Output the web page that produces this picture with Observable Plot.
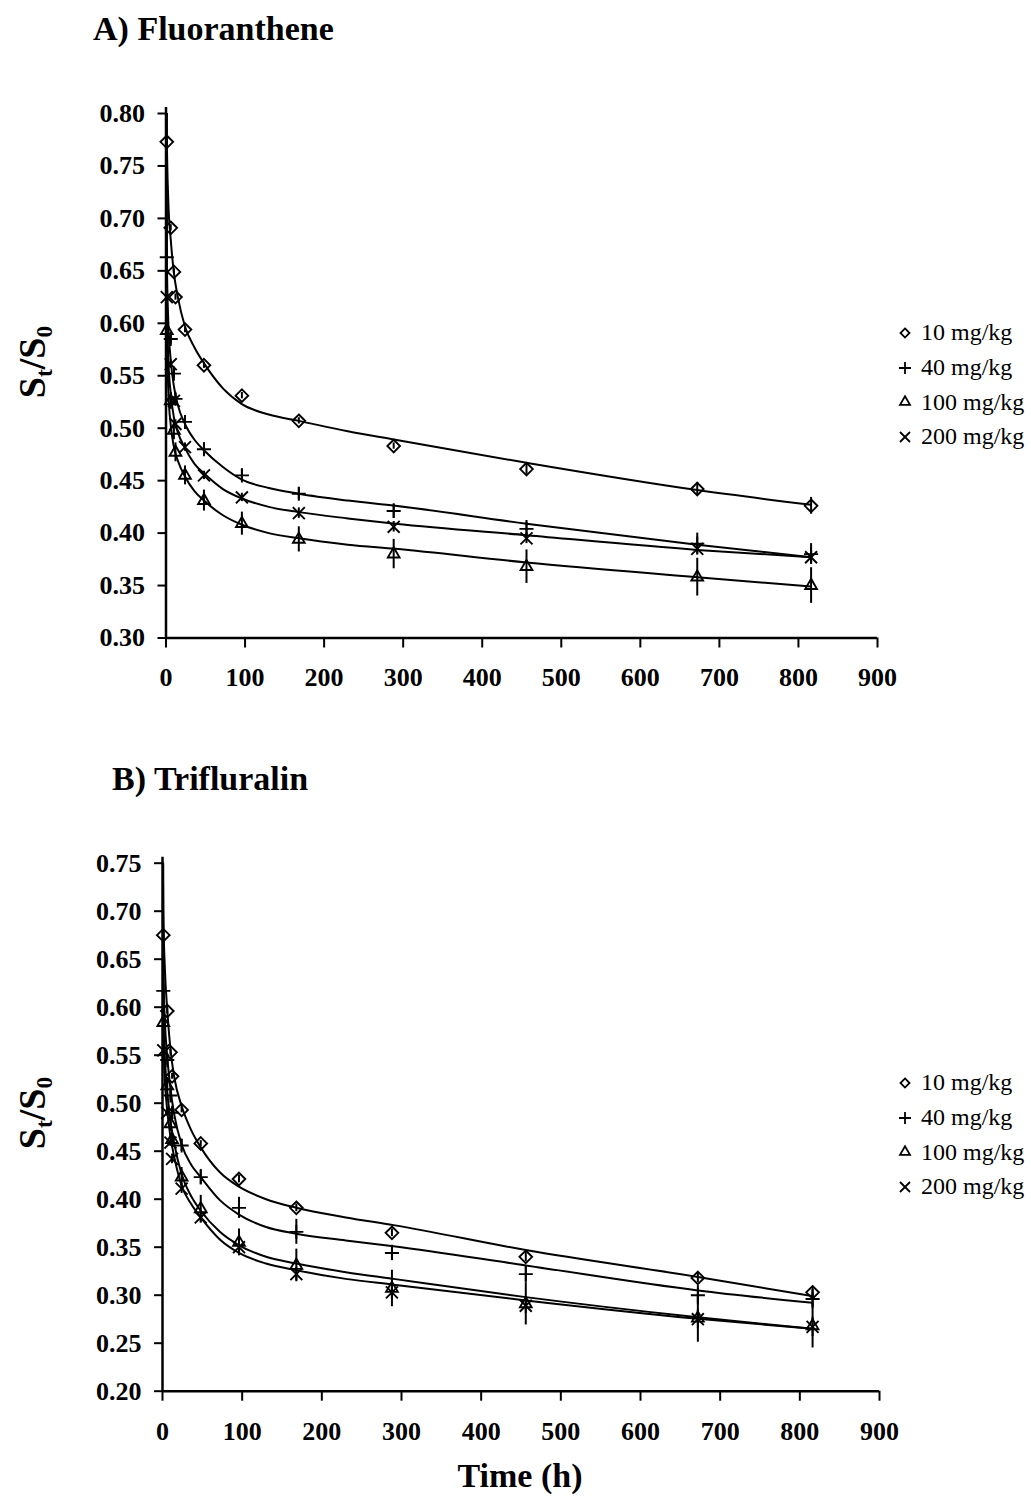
<!DOCTYPE html>
<html>
<head>
<meta charset="utf-8">
<script src="https://cdn.jsdelivr.net/npm/d3@7"></script>
<script src="https://cdn.jsdelivr.net/npm/@observablehq/plot@0.6"></script>
<style>
  html, body { margin: 0; padding: 0; background: #fff; }
  #page { position: relative; width: 1031px; height: 1498px; overflow: hidden;
          font-family: "Liberation Serif", "Times New Roman", serif; color: #000; }
  .title { position: absolute; font-weight: bold; font-size: 34px; line-height: 34px;
           white-space: nowrap; }
  .ylab { position: absolute; font-weight: bold; font-size: 38px; line-height: 38px; white-space: nowrap;
          transform: translate(-50%, -50%) rotate(-90deg); }
  .ylab sub { font-size: 0.62em; vertical-align: -0.28em; line-height: 0; }
  .xlab { position: absolute; font-weight: bold; font-size: 34px; line-height: 34px; white-space: nowrap;
          transform: translate(-50%, -50%); }
  .legend { position: absolute; font-size: 24px; }
  .legend .row { display: flex; align-items: center; height: 34.7px; white-space: nowrap; }
  .legend svg { margin-right: 8px; overflow: visible; }
  .panel { position: absolute; left: 0; }
</style>
</head>
<body>
<div id="page"></div>
<script>
// Dose levels and their marker shapes
const series = ["10 mg/kg", "40 mg/kg", "100 mg/kg", "200 mg/kg"];
const symbols = ["diamond2", "plus", "triangle2", "times"];
const markerR = [5.7, 4.6, 5.6, 5.5];

// Sampling times (h) and axis ticks
const sampleTimes = [1, 6, 10, 12, 24, 48, 96, 168, 288, 456, 672, 816];
const xTicks = [0, 100, 200, 300, 400, 500, 600, 700, 800, 900];
const fluoYTicks = [0.30, 0.35, 0.40, 0.45, 0.50, 0.55, 0.60, 0.65, 0.70, 0.75, 0.80];
const triYTicks = [0.20, 0.25, 0.30, 0.35, 0.40, 0.45, 0.50, 0.55, 0.60, 0.65, 0.70, 0.75];

// A) Fluoranthene — measured St/S0 and standard deviations
const fluo10 = [0.773, 0.691, 0.649, 0.625, 0.594, 0.560, 0.531, 0.507, 0.483, 0.461, 0.442, 0.426];
const fluo40 = [0.663, 0.585, 0.552, 0.528, 0.506, 0.480, 0.455, 0.4375, 0.421, 0.404, 0.390, 0.380];
const fluo100 = [0.593, 0.526, 0.498, 0.477, 0.455, 0.431, 0.409, 0.394, 0.380, 0.368, 0.358, 0.350];
const fluo200 = [0.625, 0.561, 0.526, 0.504, 0.482, 0.455, 0.434, 0.419, 0.406, 0.395, 0.385, 0.377];
const fluo10Sd = [0.003, 0.003, 0.003, 0.003, 0.003, 0.003, 0.003, 0.003, 0.003, 0.005, 0.006, 0.008];
const fluo40Sd = [0.005, 0.005, 0.005, 0.005, 0.005, 0.006, 0.006, 0.006, 0.007, 0.008, 0.010, 0.010];
const fluo100Sd = [0.008, 0.008, 0.009, 0.009, 0.009, 0.010, 0.011, 0.012, 0.014, 0.016, 0.018, 0.017];
const fluo200Sd = [0.004, 0.004, 0.004, 0.004, 0.004, 0.004, 0.004, 0.005, 0.005, 0.005, 0.006, 0.006];

// Fitted desorption curves, sampled along time (h)
const fitTimes = [0, 1, 3, 6, 10, 15, 24, 36, 48, 72, 96, 130, 168, 230, 290, 456, 672, 816];
const fluo10Fit = [1.0, 0.780, 0.715, 0.680, 0.648, 0.625, 0.597, 0.577, 0.562, 0.538, 0.523, 0.513, 0.507, 0.497, 0.489, 0.467, 0.441, 0.427];
const fluo40Fit = [1.0, 0.665, 0.600, 0.565, 0.540, 0.522, 0.504, 0.489, 0.479, 0.463, 0.451, 0.443, 0.4375, 0.431, 0.426, 0.409, 0.389, 0.377];
const fluo100Fit = [1.0, 0.600, 0.535, 0.503, 0.482, 0.469, 0.454, 0.440, 0.431, 0.417, 0.408, 0.400, 0.395, 0.389, 0.385, 0.372, 0.358, 0.349];
const fluo200Fit = [1.0, 0.630, 0.565, 0.533, 0.510, 0.496, 0.481, 0.466, 0.457, 0.442, 0.433, 0.425, 0.420, 0.414, 0.409, 0.398, 0.384, 0.377];

// B) Trifluralin — measured St/S0 and standard deviations
const tri10 = [0.675, 0.596, 0.553, 0.528, 0.493, 0.458, 0.421, 0.391, 0.365, 0.340, 0.318, 0.303];
const tri40 = [0.617, 0.545, 0.508, 0.490, 0.456, 0.423, 0.391, 0.366, 0.344, 0.322, 0.300, 0.296];
const tri100 = [0.584, 0.518, 0.4785, 0.462, 0.423, 0.390, 0.355, 0.331, 0.307, 0.291, 0.276, 0.268];
const tri200 = [0.555, 0.490, 0.459, 0.442, 0.411, 0.381, 0.350, 0.322, 0.303, 0.289, 0.275, 0.267];
const tri10Sd = [0.003, 0.003, 0.003, 0.003, 0.003, 0.003, 0.004, 0.004, 0.004, 0.005, 0.005, 0.006];
const tri40Sd = [0.005, 0.005, 0.005, 0.005, 0.006, 0.008, 0.011, 0.013, 0.008, 0.009, 0.010, 0.010];
const tri100Sd = [0.006, 0.006, 0.008, 0.008, 0.010, 0.014, 0.014, 0.017, 0.019, 0.022, 0.025, 0.023];
const tri200Sd = [0.004, 0.004, 0.004, 0.005, 0.005, 0.006, 0.006, 0.007, 0.008, 0.008, 0.010, 0.010];

const tri10Fit = [1.0, 0.700, 0.640, 0.597, 0.556, 0.526, 0.497, 0.472, 0.454, 0.428, 0.413, 0.400, 0.391, 0.381, 0.373, 0.347, 0.319, 0.299];
const tri40Fit = [1.0, 0.640, 0.585, 0.548, 0.515, 0.487, 0.457, 0.436, 0.423, 0.399, 0.384, 0.371, 0.364, 0.357, 0.351, 0.331, 0.305, 0.292];
const tri100Fit = [1.0, 0.600, 0.548, 0.512, 0.482, 0.457, 0.426, 0.403, 0.388, 0.366, 0.352, 0.340, 0.333, 0.324, 0.317, 0.298, 0.277, 0.265];
const tri200Fit = [1.0, 0.575, 0.525, 0.492, 0.465, 0.443, 0.414, 0.395, 0.381, 0.358, 0.344, 0.333, 0.326, 0.317, 0.311, 0.2945, 0.2754, 0.265];

// Long-format tables for the marks
function pointRows(means, sds) {
  return series.flatMap((s, i) => sampleTimes.map((t, j) => ({series: s, t, v: means[i][j], sd: sds[i][j]})));
}
function fitRows(fits) {
  return series.flatMap((s, i) => fitTimes.map((t, j) => ({series: s, t, v: fits[i][j]})));
}

const page = document.getElementById("page");
const font = "'Liberation Serif', 'Times New Roman', serif";

function drawPanel({top, height, marginTop, marginBottom, marginLeft, marginRight, yDomain, yTicks, points, fits}) {
  const chart = Plot.plot({
    width: 1031,
    height,
    marginTop, marginBottom, marginLeft, marginRight,
    style: {fontFamily: font, fontSize: "26px", fontWeight: "bold", color: "#000", background: "transparent", overflow: "visible"},
    x: {domain: [0, 900]},
    y: {domain: yDomain},
    symbol: {domain: series, range: symbols},
    marks: [
      Plot.line(fits, {x: "t", y: "v", z: "series", curve: "monotone-x", stroke: "#000", strokeWidth: 2, clip: true}),
      Plot.ruleX(points, {x: "t", y1: d => d.v - d.sd, y2: d => d.v + d.sd, stroke: "#000", strokeWidth: 2}),
      ...series.map((s, i) => Plot.dot(points, {
        filter: d => d.series === s, x: "t", y: "v", symbol: "series",
        r: markerR[i], stroke: "#000", strokeWidth: 1.9, fill: "none"
      })),
      Plot.ruleX([0], {stroke: "#000", strokeWidth: 2.5, insetTop: -6}),
      Plot.ruleY([yDomain[0]], {stroke: "#000", strokeWidth: 2.5}),
      Plot.axisX({ticks: xTicks, tickSize: 10, tickPadding: 20, tickFormat: d3.format("d"), label: null,
                  fontSize: 26, fontWeight: "bold", strokeWidth: 2}),
      Plot.axisY({ticks: yTicks, tickSize: 8, tickPadding: 13, tickFormat: d3.format(".2f"), label: null,
                  fontSize: 26, fontWeight: "bold", strokeWidth: 2})
    ]
  });
  const wrap = document.createElement("div");
  wrap.className = "panel";
  wrap.style.top = top + "px";
  wrap.appendChild(chart);
  page.appendChild(wrap);
}

function addTitle(text, left, top) {
  const d = document.createElement("div");
  d.className = "title";
  d.textContent = text;
  d.style.left = left + "px";
  d.style.top = top + "px";
  page.appendChild(d);
}

function addYLabel(cx, cy) {
  const d = document.createElement("div");
  d.className = "ylab";
  d.innerHTML = "S<sub>t</sub>/S<sub>0</sub>";
  d.style.left = cx + "px";
  d.style.top = cy + "px";
  page.appendChild(d);
}

const legendSymbols = [d3.symbolDiamond2, d3.symbolPlus, d3.symbolTriangle2, d3.symbolTimes];
const legendSizes = [52, 49, 71, 67];
function addLegend(left, top) {
  const box = document.createElement("div");
  box.className = "legend";
  box.style.left = left + "px";
  box.style.top = top + "px";
  series.forEach((s, i) => {
    const row = document.createElement("div");
    row.className = "row";
    const svg = d3.create("svg").attr("width", 16).attr("height", 16);
    svg.append("path")
      .attr("transform", "translate(8,8)")
      .attr("d", d3.symbol().type(legendSymbols[i]).size(legendSizes[i])())
      .attr("fill", "none").attr("stroke", "#000").attr("stroke-width", 1.8);
    row.appendChild(svg.node());
    const label = document.createElement("span");
    label.textContent = s;
    row.appendChild(label);
    box.appendChild(row);
  });
  page.appendChild(box);
}

// Panel A
addTitle("A) Fluoranthene", 93, 11.5);
drawPanel({
  top: 60, height: 640, marginTop: 53, marginBottom: 62.5, marginLeft: 165.5, marginRight: 154,
  yDomain: [0.30, 0.80], yTicks: fluoYTicks,
  points: pointRows([fluo10, fluo40, fluo100, fluo200], [fluo10Sd, fluo40Sd, fluo100Sd, fluo200Sd]),
  fits: fitRows([fluo10Fit, fluo40Fit, fluo100Fit, fluo200Fit])
});
addYLabel(32, 362);
addLegend(897, 315.5);

// Panel B
addTitle("B) Trifluralin", 112, 761.5);
drawPanel({
  top: 830, height: 620, marginTop: 32.7, marginBottom: 59.3, marginLeft: 162, marginRight: 152,
  yDomain: [0.20, 0.75], yTicks: triYTicks,
  points: pointRows([tri10, tri40, tri100, tri200], [tri10Sd, tri40Sd, tri100Sd, tri200Sd]),
  fits: fitRows([tri10Fit, tri40Fit, tri100Fit, tri200Fit])
});
addYLabel(32, 1113);
addLegend(897, 1065.5);

const xl = document.createElement("div");
xl.className = "xlab";
xl.textContent = "Time (h)";
xl.style.left = "520px";
xl.style.top = "1476px";
page.appendChild(xl);
</script>
</body>
</html>
